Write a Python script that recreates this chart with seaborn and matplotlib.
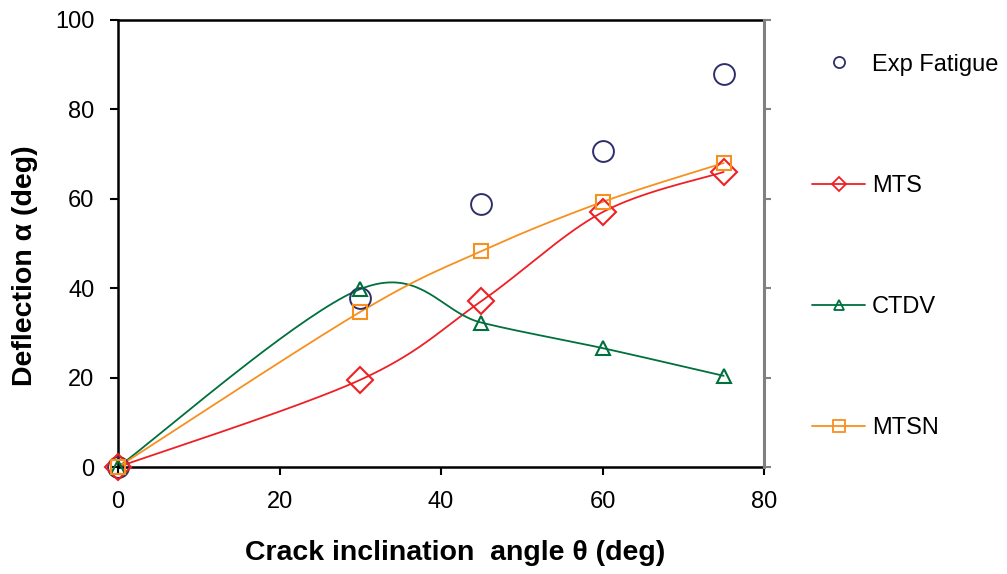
import numpy as np
import pandas as pd
import matplotlib
matplotlib.use("Agg")
import matplotlib.pyplot as plt
from matplotlib.lines import Line2D
import seaborn as sns

# ---- data ----
angles = [0, 30, 45, 60, 75]
exp_fatigue = [0, 37.8, 58.8, 70.6, 88.0]
mts = [0, 19.5, 37.1, 57.0, 66.0]
ctdv = [0, 39.8, 32.3, 26.6, 20.4]
mtsn = [0, 34.7, 48.3, 59.3, 68.0]

x_ticks = [0, 20, 40, 60, 80]
y_ticks = [0, 20, 40, 60, 80, 100]

sns.set_style("ticks")
plt.rcParams['font.family'] = ['Liberation Sans', 'DejaVu Sans']
plt.rcParams['text.color'] = 'black'
plt.rcParams['axes.labelcolor'] = 'black'

def smooth(xs, ys, n=40):
    """Excel-like smoothed line (Catmull-Rom Bezier)."""
    P = np.column_stack([xs, ys]).astype(float)
    m = len(P)
    out = []
    for i in range(m - 1):
        p0 = P[i - 1] if i > 0 else P[i]
        p1 = P[i]
        p2 = P[i + 1]
        p3 = P[i + 2] if i + 2 < m else P[i + 1]
        b1 = p1 + (p2 - p0) / 6.0
        b2 = p2 - (p3 - p1) / 6.0
        t = np.linspace(0, 1, n)[:, None]
        seg = ((1 - t) ** 3) * p1 + 3 * ((1 - t) ** 2) * t * b1 + 3 * (1 - t) * t ** 2 * b2 + t ** 3 * p2
        out.append(seg if i == 0 else seg[1:])
    s = np.vstack(out)
    return s[:, 0], s[:, 1]

fig = plt.figure(figsize=(10.07, 5.74), dpi=100)
ax = fig.add_axes([0.1172, 0.1864, 0.6415, 0.7788])

c_exp = "#2E2E6A"
c_mts = "#EE2024"
c_ctdv = "#00703C"
c_mtsn = "#F7901E"

series = [
    ("MTS", mts, c_mts, "D", 13),
    ("CTDV", ctdv, c_ctdv, "^", 10),
    ("MTSN", mtsn, c_mtsn, "s", 10),
]

for name, vals, col, mk, ms in series:
    sx, sy = smooth(angles, vals)
    df = pd.DataFrame({"x": sx, "y": sy})
    sns.lineplot(data=df, x="x", y="y", sort=False, color=col, lw=1.3, ax=ax)

# Exp fatigue markers
ax.plot(angles, exp_fatigue, ls="none", marker="o", ms=15, mfc="none", mec=c_exp, mew=1.4,
        zorder=4, clip_on=False)
for name, vals, col, mk, ms in series:
    ax.plot(angles, vals, ls="none", marker=mk, ms=ms, mfc="none", mec=col, mew=1.5,
            zorder=5, clip_on=False)

ax.set_xlim(0, 80)
ax.set_ylim(0, 100)
ax.set_xticks(x_ticks)
ax.set_yticks(y_ticks)
ax.tick_params(axis="both", direction="out", length=6, width=1.5, labelsize=17,
               colors="black", labelcolor="black", pad=11)
ax.set_xlabel("Crack inclination  angle θ (deg)", fontsize=20.5, fontweight="bold", labelpad=20)
ax.set_ylabel("Deflection α (deg)", fontsize=20.5, fontweight="bold", labelpad=12)
ax.xaxis.label.set_x(0.522)
ax.yaxis.label.set_y(0.45)
for s in ["left", "bottom", "top"]:
    ax.spines[s].set_color("black")
    ax.spines[s].set_linewidth(1.8)
ax.spines["right"].set_visible(False)

ax2 = ax.twinx()
ax2.set_ylim(0, 100)
ax2.set_yticks(y_ticks)
ax2.tick_params(axis="y", direction="out", length=5, width=1.5, colors="#808080", labelright=False)
for s in ["left", "bottom", "top"]:
    ax2.spines[s].set_visible(False)
ax2.spines["right"].set_color("#808080")
ax2.spines["right"].set_linewidth(2.2)
ax2.set_ylabel("")

handles = [
    Line2D([], [], ls="none", marker="o", ms=8, mfc="none", mec=c_exp, mew=1.3),
    Line2D([], [], color=c_mts, lw=1.3, marker="D", ms=7, mfc="none", mec=c_mts, mew=1.3),
    Line2D([], [], color=c_ctdv, lw=1.3, marker="^", ms=7, mfc="none", mec=c_ctdv, mew=1.3),
    Line2D([], [], color=c_mtsn, lw=1.3, marker="s", ms=8, mfc="none", mec=c_mtsn, mew=1.3),
]
labels = ["Exp Fatigue", "MTS", "CTDV", "MTSN"]
fig.legend(handles, labels, loc="upper left", bbox_to_anchor=(0.797, 0.923), frameon=False,
           fontsize=17, handlelength=2.25, handletextpad=0.3, labelspacing=4.2, borderaxespad=0)

fig.savefig("out.png", dpi=100)
